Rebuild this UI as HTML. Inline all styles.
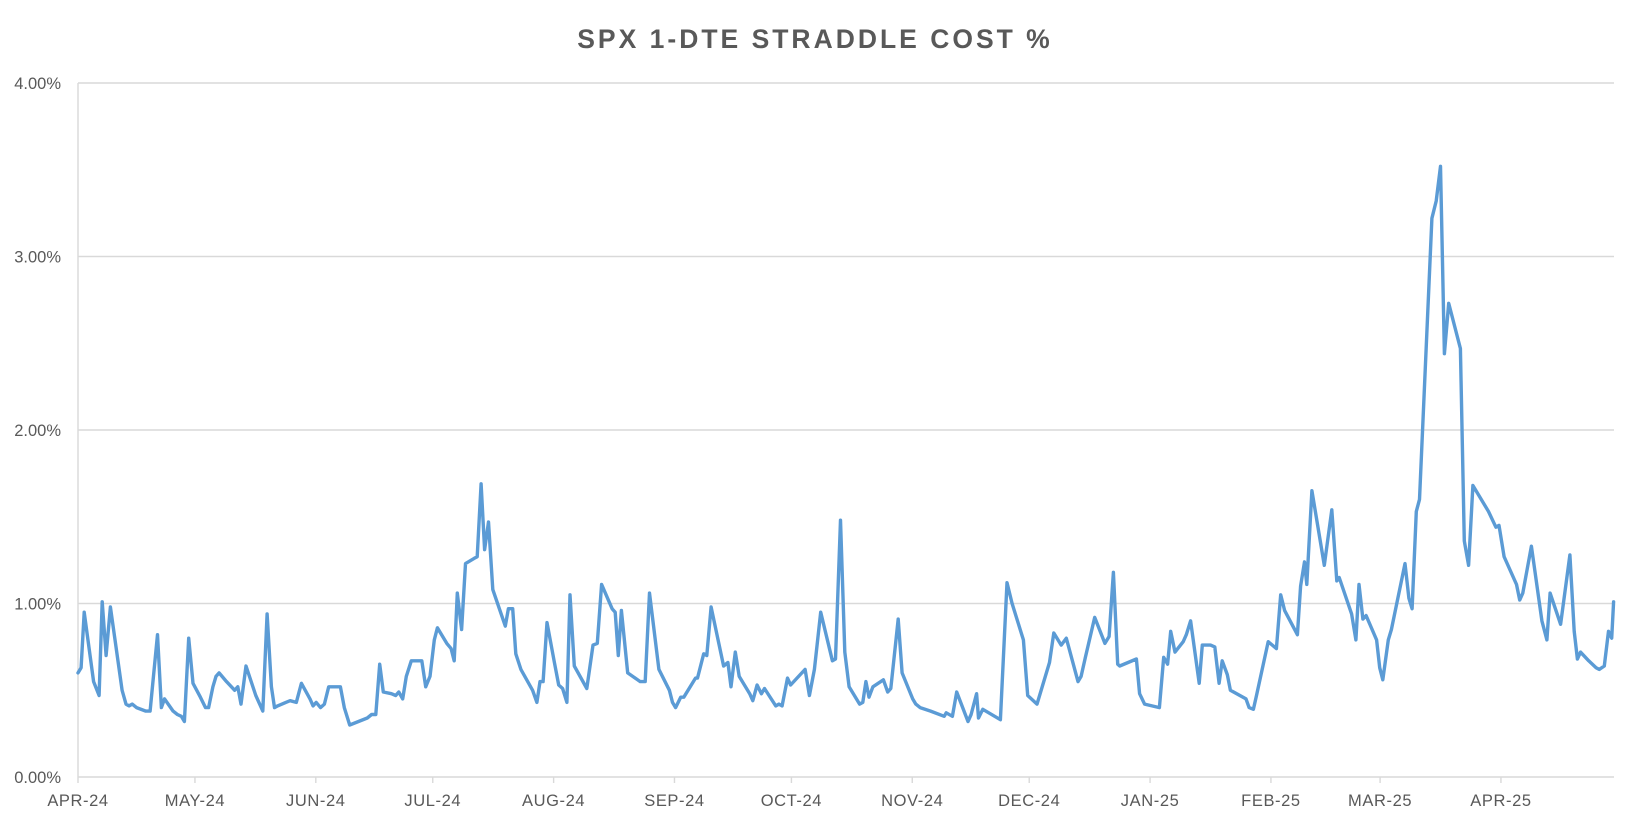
<!DOCTYPE html>
<html><head><meta charset="utf-8"><style>
body{margin:0;background:#fff;}
svg text{font-family:"Liberation Sans",sans-serif;}
</style></head><body>
<svg id="chart" width="1636" height="822" viewBox="0 0 1636 822" xmlns="http://www.w3.org/2000/svg">
<rect width="1636" height="822" fill="#fff"/>
<text x="815" y="48" text-anchor="middle" font-size="26.5" font-weight="bold" fill="#595959" letter-spacing="3">SPX 1-DTE STRADDLE COST %</text>
<g id="grid"></g>
<g id="yaxis"></g>
<g id="xaxis"></g>
<g id="series"></g>
</svg>
<script>
const days = [0,0.8,1.6,4.0,5.4,6.2,7.2,8.3,11.3,12.3,13.1,13.9,15.0,17.4,18.5,20.4,21.4,22.2,24.4,25.5,26.5,27.3,28.4,29.5,31.4,32.7,33.5,34.6,35.4,36.2,38.1,40.2,41.0,41.8,43.1,45.6,47.4,48.5,49.6,50.4,51.2,53.3,54.4,56.0,57.3,59.5,60.3,61.1,62.2,63.2,64.3,65.7,67.3,68.3,69.7,74.2,75.3,76.4,77.4,78.3,80.4,81.5,82.3,83.3,84.2,85.5,87.1,88.2,89.2,90.3,91.4,92.2,94.6,95.7,96.5,97.3,98.4,99.4,101.6,102.4,103.4,104.3,105.3,106.4,109.6,110.4,111.5,112.3,113.6,116.6,117.7,118.5,119.3,120.3,122.2,123.3,124.3,125.4,126.2,127.3,130.5,132.1,133.2,134.3,137.0,137.8,138.6,139.4,141.0,144.2,145.5,146.6,149.0,151.7,152.5,153.3,154.6,155.4,158.4,158.9,160.5,161.3,162.4,165.6,166.7,167.5,168.6,169.6,172.3,173.1,174.2,175.3,176.1,179.0,179.8,180.6,182.0,182.8,186.5,187.6,188.9,190.5,193.5,194.3,195.6,196.7,197.8,200.5,201.3,202.1,202.9,203.9,206.6,207.7,208.5,210.4,211.4,214.1,214.9,216.0,218.7,222.2,222.7,224.3,225.4,228.3,229.1,230.5,231.0,232.1,236.6,238.3,239.6,242.5,243.6,246.0,249.2,250.3,252.2,253.5,256.5,257.3,258.4,260.8,263.4,264.5,265.6,266.7,267.2,271.5,272.3,273.6,277.4,278.5,279.5,280.3,281.4,283.5,284.3,285.4,287.6,288.4,290.5,291.6,292.7,293.5,294.8,295.6,299.6,300.4,301.5,302.3,305.3,307.4,308.5,309.5,312.8,313.6,314.6,315.2,316.5,319.7,321.6,322.9,323.5,326.7,327.8,328.6,329.6,330.4,333.1,333.9,334.7,336.1,336.9,340.4,341.4,342.2,343.3,344.1,347.3,348.4,349.5,350.5,351.6,354.6,355.6,356.7,357.8,361.8,363.7,364.5,365.8,369.0,369.8,370.6,372.8,375.5,376.8,377.6,380.3,382.7,383.8,384.6,385.4,387.5,389.4,390.2,391.5,392.6,393.4,393.9];
const values = [.60,.63,.95,.55,.47,1.01,.70,.98,.50,.42,.41,.42,.40,.38,.38,.82,.40,.45,.38,.36,.35,.32,.80,.54,.46,.40,.40,.52,.58,.60,.55,.50,.52,.42,.64,.47,.38,.94,.52,.40,.41,.43,.44,.43,.54,.45,.41,.43,.40,.42,.52,.52,.52,.40,.30,.34,.36,.36,.65,.49,.48,.47,.49,.45,.58,.67,.67,.67,.52,.58,.79,.86,.77,.74,.67,1.06,.85,1.23,1.26,1.27,1.69,1.31,1.47,1.08,.87,.97,.97,.71,.62,.50,.43,.55,.55,.89,.66,.53,.51,.43,1.05,.64,.51,.76,.77,1.11,.97,.95,.70,.96,.60,.55,.55,1.06,.62,.50,.43,.40,.46,.46,.57,.57,.71,.70,.98,.64,.66,.52,.72,.58,.48,.44,.53,.48,.51,.41,.42,.41,.57,.53,.62,.47,.62,.95,.67,.68,1.48,.72,.52,.42,.43,.55,.46,.52,.56,.49,.51,.91,.60,.45,.42,.40,.38,.35,.37,.35,.49,.32,.36,.48,.34,.39,.33,1.12,1.00,.79,.47,.42,.66,.83,.76,.80,.55,.58,.69,.92,.77,.81,1.18,.65,.64,.68,.48,.42,.40,.69,.65,.84,.72,.78,.82,.90,.54,.76,.76,.75,.54,.67,.59,.50,.45,.40,.39,.47,.78,.74,1.05,.96,.82,1.10,1.24,1.11,1.65,1.22,1.54,1.13,1.15,.94,.79,1.11,.91,.93,.79,.63,.56,.79,.85,1.23,1.03,.97,1.53,1.60,3.22,3.32,3.52,2.44,2.73,2.47,1.36,1.22,1.68,1.53,1.44,1.45,1.27,1.11,1.02,1.06,1.33,.90,.79,1.06,.88,1.28,.84,.68,.72,.67,.63,.62,.64,.84,.80,1.01];
const monthLabels = ["APR-24","MAY-24","JUN-24","JUL-24","AUG-24","SEP-24","OCT-24","NOV-24","DEC-24","JAN-25","FEB-25","MAR-25","APR-25"];
const monthDays = [0,30,61,91,122,153,183,214,244,275,306,334,365];
const yTicks = [0,1,2,3,4];
const yTickLabels = ["0.00%","1.00%","2.00%","3.00%","4.00%"];

const X0=78,X1=1614,Y0=777,Y1=83,DMAX=394,VMAX=4;
const xs=d=>X0+(d/DMAX)*(X1-X0);
const ys=v=>Y0-(v/VMAX)*(Y0-Y1);
const NS="http://www.w3.org/2000/svg";
function mk(tag,attrs,parent){const e=document.createElementNS(NS,tag);for(const k in attrs)e.setAttribute(k,attrs[k]);parent.appendChild(e);return e;}
const grid=document.getElementById('grid'),yaxis=document.getElementById('yaxis'),xaxis=document.getElementById('xaxis'),series=document.getElementById('series');
yTicks.forEach((t,i)=>{
  if(t>0){const g=mk('line',{x1:X0,x2:X1,y1:ys(t),y2:ys(t),stroke:'#d9d9d9','stroke-width':1.4},grid);
  
  }
  const tx=mk('text',{x:61,y:ys(t)+6,'text-anchor':'end','font-size':16.5,fill:'#595959'},yaxis);
  tx.textContent=yTickLabels[i];
  
  
});
const ax=mk('line',{x1:X0,x2:X1,y1:Y0,y2:Y0,stroke:'#d9d9d9','stroke-width':1.4},xaxis);


const ay=mk('line',{x1:X0,x2:X0,y1:Y1,y2:Y0,stroke:'#d9d9d9','stroke-width':1.4},yaxis);


monthDays.forEach((d,i)=>{
  const tk=mk('line',{x1:xs(d),x2:xs(d),y1:Y0,y2:Y0+6,stroke:'#d9d9d9','stroke-width':1.4},xaxis);
  
  
  const tx=mk('text',{x:xs(d),y:Y0+29,'text-anchor':'middle','font-size':16.5,fill:'#595959','letter-spacing':0.6},xaxis);
  tx.textContent=monthLabels[i];
  
  
});
const pts=days.map((d,i)=>xs(d).toFixed(1)+','+ys(values[i]).toFixed(1)).join(' ');
const pl=mk('polyline',{points:pts,fill:'none',stroke:'#5b9bd5','stroke-width':3.4,'stroke-linejoin':'round','stroke-linecap':'round'},series);


</script>
</body></html>
